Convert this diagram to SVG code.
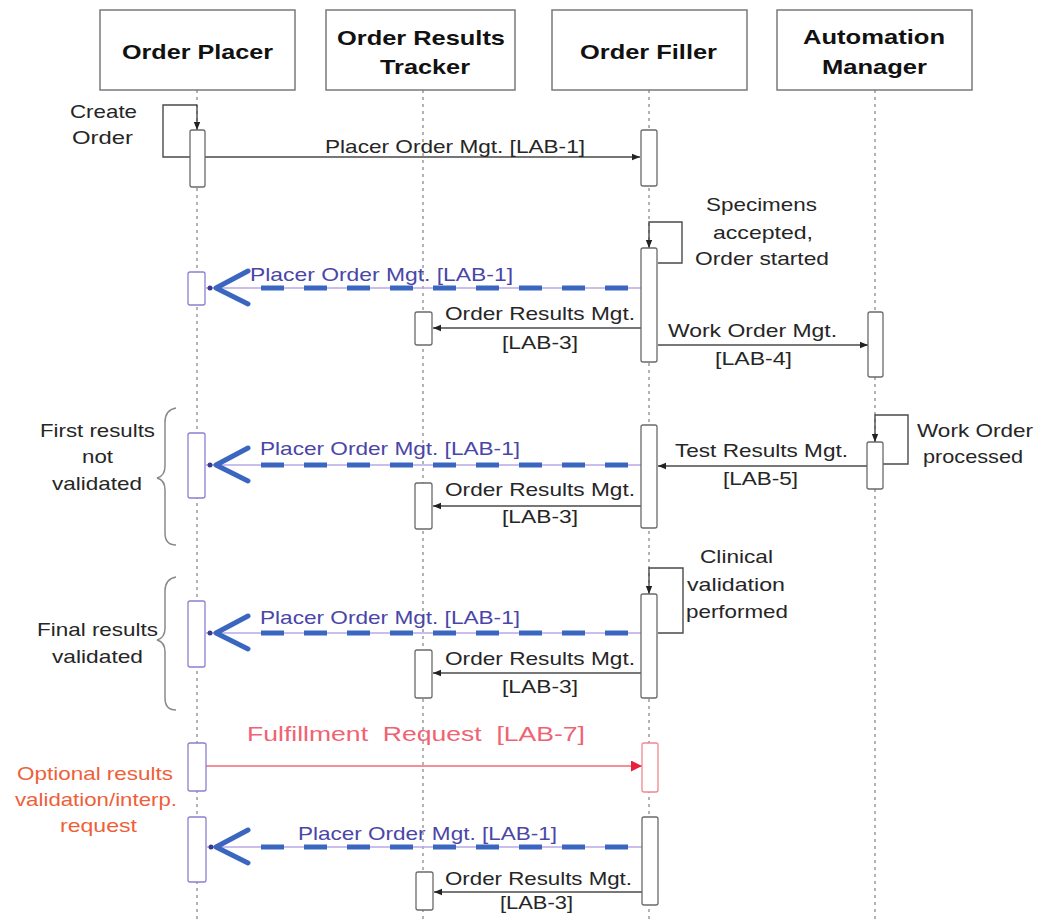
<svg xmlns="http://www.w3.org/2000/svg" width="1039" height="920" viewBox="0 0 1039 920">
<style>
text{font-family:"Liberation Sans",Arial,sans-serif;font-size:19px;fill:#262626}
.h{font-size:21px;font-weight:bold;fill:#111}
.b{fill:#4a46a8}
.r{fill:#ef6373;font-size:20px;white-space:pre}
.o{fill:#ee5f3a}
.box{fill:#fff;stroke:#7a7a7a;stroke-width:1.5}
.life{stroke:#9a9a9a;stroke-width:1.5;stroke-dasharray:3 4;fill:none}
.act{fill:#fff;stroke:#6a6a6a;stroke-width:1.3}
.pact{fill:#fff;stroke:#8a80d0;stroke-width:1.3}
.ract{fill:#fff;stroke:#f08890;stroke-width:1.3}
.msg{fill:none;stroke:#4a4a4a;stroke-width:1.4}
.red{fill:none;stroke:#f06a78;stroke-width:1.5}
.lav{fill:none;stroke:#b8aae6;stroke-width:1.5}
.dash{fill:none;stroke:#3b66c0;stroke-width:5;stroke-dasharray:23 20}
.chev{fill:none;stroke:#3b66c0;stroke-width:5;stroke-linecap:round;stroke-linejoin:round}
.brace{fill:none;stroke:#8a8a8a;stroke-width:1.5}
</style>
<defs>
<marker id="ah" viewBox="0 0 10 10" refX="10" refY="5" markerWidth="8" markerHeight="8" markerUnits="userSpaceOnUse" orient="auto"><path d="M0,1 L10,5 L0,9 z" fill="#222"/></marker>
<marker id="ahr" viewBox="0 0 10 10" refX="10" refY="5" markerWidth="11" markerHeight="11" markerUnits="userSpaceOnUse" orient="auto"><path d="M0,0 L10,5 L0,10 z" fill="#e8203a"/></marker>
</defs>

<g id="lifelines">
<path class="life" d="M197,90 V920 M423,90 V920 M649,90 V920 M875,90 V920"/>
</g>

<g id="order-placer"><rect class="box" x="100" y="10" width="195" height="80"/><text class="h" x="122" y="59" textLength="151" lengthAdjust="spacingAndGlyphs">Order Placer</text></g>
<g id="order-results-tracker"><rect class="box" x="326" y="10" width="189" height="80"/><text class="h" x="337" y="45" textLength="168" lengthAdjust="spacingAndGlyphs">Order Results</text><text class="h" x="380" y="74" textLength="90" lengthAdjust="spacingAndGlyphs">Tracker</text></g>
<g id="order-filler"><rect class="box" x="552" y="10" width="195" height="80"/><text class="h" x="580" y="59" textLength="137" lengthAdjust="spacingAndGlyphs">Order Filler</text></g>
<g id="automation-manager"><rect class="box" x="777" y="10" width="195" height="80"/><text class="h" x="803" y="44" textLength="142" lengthAdjust="spacingAndGlyphs">Automation</text><text class="h" x="822" y="74" textLength="105" lengthAdjust="spacingAndGlyphs">Manager</text></g>

<g id="connectors">
<path class="msg" d="M197,105 H163 V157 H640" marker-end="url(#ah)"/>
<path class="msg" d="M197,105 V130" marker-end="url(#ah)"/>
<path class="msg" d="M658,263 H682 V222 H649 V248" marker-end="url(#ah)"/>
<path class="msg" d="M641,328 H433" marker-end="url(#ah)"/>
<path class="msg" d="M658,345 H868" marker-end="url(#ah)"/>
<path class="msg" d="M883,464 H908 V415 H875 V442" marker-end="url(#ah)"/>
<path class="msg" d="M867,466 H658" marker-end="url(#ah)"/>
<path class="msg" d="M641,506 H433" marker-end="url(#ah)"/>
<path class="msg" d="M658,633 H683 V568 H649 V594" marker-end="url(#ah)"/>
<path class="msg" d="M641,673 H433" marker-end="url(#ah)"/>
<path class="red" d="M206,766 H642" marker-end="url(#ahr)"/>
<path class="msg" d="M642,892 H434" marker-end="url(#ah)"/>

<path class="lav" d="M641,288 H206"/><path class="dash" d="M628,288 H258"/><path class="chev" d="M248,271 L216,288 L248,304"/><circle cx="210" cy="288" r="2.5" fill="#3a3a90"/>
<path class="lav" d="M641,465 H206"/><path class="dash" d="M628,465 H258"/><path class="chev" d="M248,448 L216,465 L248,481"/><circle cx="210" cy="465" r="2.5" fill="#3a3a90"/>
<path class="lav" d="M641,633 H206"/><path class="dash" d="M628,633 H258"/><path class="chev" d="M248,616 L216,633 L248,649"/><circle cx="210" cy="633" r="2.5" fill="#3a3a90"/>
<path class="lav" d="M642,847 H207"/><path class="dash" d="M628,847 H258"/><path class="chev" d="M248,830 L216,847 L248,863"/><circle cx="211" cy="847" r="2.5" fill="#3a3a90"/>
</g>

<g id="activations">
<rect class="act" x="190" y="130" width="15" height="57" rx="2"/>
<rect class="act" x="641" y="130" width="16" height="56" rx="2"/>
<rect class="act" x="641" y="248" width="16" height="114" rx="2"/>
<rect class="pact" x="188" y="272" width="17" height="33" rx="2"/>
<rect class="act" x="415" y="312" width="17" height="33" rx="2"/>
<rect class="act" x="868" y="312" width="15" height="65" rx="2"/>
<rect class="pact" x="188" y="433" width="17" height="65" rx="2"/>
<rect class="act" x="641" y="425" width="16" height="103" rx="2"/>
<rect class="act" x="867" y="442" width="16" height="47" rx="2"/>
<rect class="act" x="415" y="483" width="17" height="46" rx="2"/>
<rect class="pact" x="188" y="601" width="17" height="66" rx="2"/>
<rect class="act" x="641" y="594" width="16" height="104" rx="2"/>
<rect class="act" x="415" y="650" width="17" height="48" rx="2"/>
<rect class="pact" x="188" y="743" width="18" height="48" rx="2"/>
<rect class="ract" x="642" y="743" width="16" height="49" rx="2"/>
<rect class="pact" x="188" y="817" width="18" height="65" rx="2"/>
<rect class="act" x="642" y="817" width="16" height="88" rx="2"/>
<rect class="act" x="416" y="872" width="17" height="38" rx="2"/>
</g>

<g id="braces">
<path class="brace" d="M176,408 Q165,410 165,422 V466 Q165,476 157,478 Q165,480 165,490 V533 Q165,545 176,545"/>
<path class="brace" d="M176,577 Q165,579 165,591 V628 Q165,638 157,640 Q165,642 165,652 V698 Q165,710 176,710"/>
</g>

<g id="labels">
<text x="70" y="118" textLength="67" lengthAdjust="spacingAndGlyphs">Create</text>
<text x="72" y="144" textLength="61" lengthAdjust="spacingAndGlyphs">Order</text>
<text x="325" y="153" textLength="260" lengthAdjust="spacingAndGlyphs">Placer Order Mgt. [LAB-1]</text>
<text x="706" y="211" textLength="111" lengthAdjust="spacingAndGlyphs">Specimens</text>
<text x="713" y="239" textLength="100" lengthAdjust="spacingAndGlyphs">accepted,</text>
<text x="695" y="265" textLength="134" lengthAdjust="spacingAndGlyphs">Order started</text>
<text class="b" x="250" y="281" textLength="263" lengthAdjust="spacingAndGlyphs">Placer Order Mgt. [LAB-1]</text>
<text x="445" y="320" textLength="190" lengthAdjust="spacingAndGlyphs">Order Results Mgt.</text>
<text x="502" y="349" textLength="76" lengthAdjust="spacingAndGlyphs">[LAB-3]</text>
<text x="668" y="337" textLength="169" lengthAdjust="spacingAndGlyphs">Work Order Mgt.</text>
<text x="715" y="365" textLength="77" lengthAdjust="spacingAndGlyphs">[LAB-4]</text>
<text x="40" y="437" textLength="115" lengthAdjust="spacingAndGlyphs">First results</text>
<text x="82" y="463" textLength="31" lengthAdjust="spacingAndGlyphs">not</text>
<text x="52" y="490" textLength="90" lengthAdjust="spacingAndGlyphs">validated</text>
<text class="b" x="260" y="455" textLength="260" lengthAdjust="spacingAndGlyphs">Placer Order Mgt. [LAB-1]</text>
<text x="445" y="496" textLength="190" lengthAdjust="spacingAndGlyphs">Order Results Mgt.</text>
<text x="502" y="523" textLength="76" lengthAdjust="spacingAndGlyphs">[LAB-3]</text>
<text x="675" y="457" textLength="173" lengthAdjust="spacingAndGlyphs">Test Results Mgt.</text>
<text x="723" y="485" textLength="75" lengthAdjust="spacingAndGlyphs">[LAB-5]</text>
<text x="917" y="437" textLength="116" lengthAdjust="spacingAndGlyphs">Work Order</text>
<text x="923" y="463" textLength="100" lengthAdjust="spacingAndGlyphs">processed</text>
<text x="700" y="563" textLength="73" lengthAdjust="spacingAndGlyphs">Clinical</text>
<text x="687" y="591" textLength="98" lengthAdjust="spacingAndGlyphs">validation</text>
<text x="686" y="618" textLength="102" lengthAdjust="spacingAndGlyphs">performed</text>
<text x="37" y="636" textLength="121" lengthAdjust="spacingAndGlyphs">Final results</text>
<text x="52" y="663" textLength="91" lengthAdjust="spacingAndGlyphs">validated</text>
<text class="b" x="260" y="624" textLength="260" lengthAdjust="spacingAndGlyphs">Placer Order Mgt. [LAB-1]</text>
<text x="445" y="665" textLength="190" lengthAdjust="spacingAndGlyphs">Order Results Mgt.</text>
<text x="502" y="693" textLength="76" lengthAdjust="spacingAndGlyphs">[LAB-3]</text>
<text class="r" x="247" y="741" textLength="338" lengthAdjust="spacingAndGlyphs">Fulfillment  Request  [LAB-7]</text>
<text class="o" x="17" y="780" textLength="156" lengthAdjust="spacingAndGlyphs">Optional results</text>
<text class="o" x="15" y="806" textLength="162" lengthAdjust="spacingAndGlyphs">validation/interp.</text>
<text class="o" x="60" y="832" textLength="77" lengthAdjust="spacingAndGlyphs">request</text>
<text class="b" x="298" y="840" textLength="259" lengthAdjust="spacingAndGlyphs">Placer Order Mgt. [LAB-1]</text>
<text x="445" y="885" textLength="187" lengthAdjust="spacingAndGlyphs">Order Results Mgt.</text>
<text x="500" y="909" textLength="73" lengthAdjust="spacingAndGlyphs">[LAB-3]</text>
</g>
</svg>
